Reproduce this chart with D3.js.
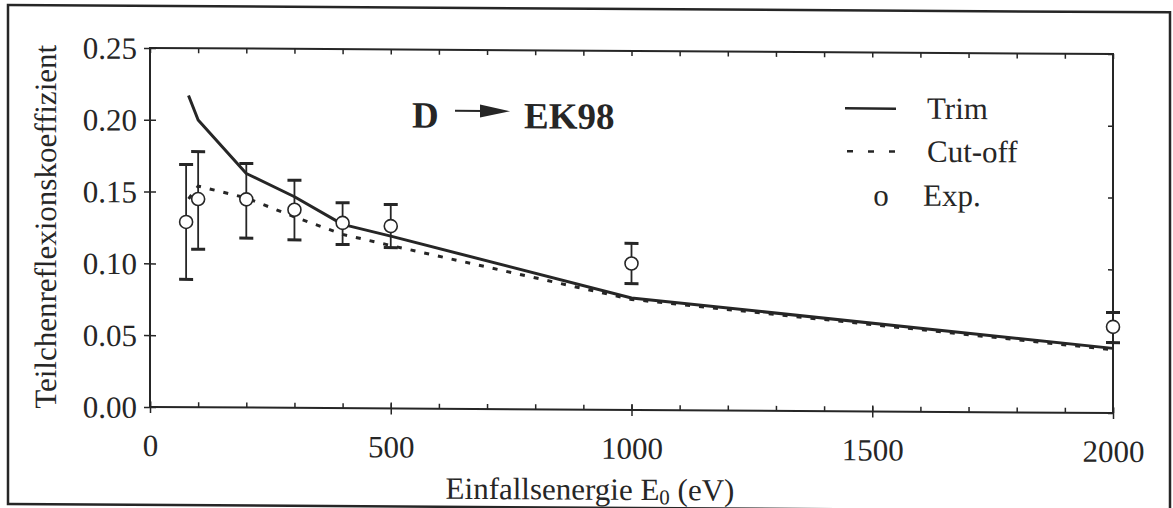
<!DOCTYPE html>
<html lang="de">
<head>
  <meta charset="UTF-8">
  <title>Teilchenreflexionskoeffizient D → EK98</title>
  <script src="https://cdnjs.cloudflare.com/ajax/libs/d3/7.8.5/d3.min.js"></script>
  <style>
    html, body { margin: 0; padding: 0; background: #fff; }
    svg { display: block; }
    text { font-family: "Liberation Serif", "Times New Roman", serif; fill: #262626; }
    .axis path, .axis line { stroke: #262626; }
  </style>
</head>
<body>
  <div id="chart"></div>

  <script>
    // data
    const trimEnergy = [80, 100, 200, 300, 400, 500, 1000, 2000];
    const trimCoeff  = [0.217, 0.200, 0.163, 0.147, 0.128, 0.120, 0.078, 0.045];

    const cutEnergy = [80, 100, 200, 300, 400, 500, 1000, 2000];
    const cutCoeff  = [0.145, 0.154, 0.146, 0.133, 0.121, 0.1135, 0.077, 0.044];

    const expEnergy = [75, 100, 200, 300, 400, 500, 1000, 2000];
    const expCoeff  = [0.129, 0.145, 0.145, 0.138, 0.129, 0.127, 0.102, 0.060];
    const expLow    = [0.089, 0.110, 0.118, 0.117, 0.114, 0.112, 0.088, 0.049];
    const expHigh   = [0.169, 0.178, 0.170, 0.1585, 0.143, 0.142, 0.116, 0.070];

    const xMajor = [0, 500, 1000, 1500, 2000];
    const xMinor = d3.range(0, 2001, 100);
    const yTicks = [0, 0.05, 0.10, 0.15, 0.20, 0.25];

    const legendItems = ["Trim", "Cut-off", "Exp."];

    const W = 1173, H = 508;
    const ink = "#262626";
    const serif = "'Liberation Serif', 'Times New Roman', serif";

    const svg = d3.select("#chart").append("svg")
      .attr("width", W)
      .attr("height", H);

    // the scan is slightly tilted
    const root = svg.append("g").attr("transform", "skewY(0.36)");

    // outer frame
    root.append("rect")
      .attr("x", 8).attr("y", 5)
      .attr("width", 1162).attr("height", 499)
      .attr("fill", "none")
      .attr("stroke", ink)
      .attr("stroke-width", 2.5);

    const x = d3.scaleLinear().domain([0, 2000]).range([150, 1113]);
    const y = d3.scaleLinear().domain([0, 0.25]).range([406, 47]);

    // plot box
    root.append("rect")
      .attr("x", x(0)).attr("y", y(0.25))
      .attr("width", x(2000) - x(0)).attr("height", y(0) - y(0.25))
      .attr("fill", "none")
      .attr("stroke", ink)
      .attr("stroke-width", 2);

    // bottom axis: crossing majors + inward minors
    const bottom = root.append("g")
      .attr("class", "axis")
      .attr("transform", `translate(0,${y(0)})`);
    bottom.append("g")
      .call(d3.axisBottom(x).tickValues(xMinor).tickSize(-5).tickFormat(""))
      .call(g => g.select(".domain").remove())
      .selectAll("line").attr("stroke-width", 1.5);
    bottom.append("g")
      .call(d3.axisBottom(x).tickValues(xMajor).tickSize(6).tickPadding(21).tickFormat(d3.format("d")))
      .call(g => g.select(".domain").remove())
      .call(g => g.selectAll(".tick line").attr("y1", -6).attr("stroke-width", 1.5))
      .selectAll("text")
      .attr("font-size", 31)
      .style("font-family", serif)
      .attr("fill", ink);

    // top axis: inward minors
    root.append("g")
      .attr("class", "axis")
      .attr("transform", `translate(0,${y(0.25)})`)
      .call(d3.axisTop(x).tickValues(xMinor).tickSize(-5).tickFormat(""))
      .call(g => g.select(".domain").remove())
      .selectAll("line").attr("stroke-width", 1.5);

    // left axis
    root.append("g")
      .attr("class", "axis")
      .attr("transform", `translate(${x(0)},0)`)
      .call(d3.axisLeft(y).tickValues(yTicks).tickSize(6).tickPadding(7).tickFormat(d3.format(".2f")))
      .call(g => g.select(".domain").remove())
      .call(g => g.selectAll(".tick line").attr("x1", 6).attr("stroke-width", 1.5))
      .selectAll("text")
      .attr("font-size", 31)
      .attr("dy", "0.34em")
      .style("font-family", serif)
      .attr("fill", ink);

    // right axis
    root.append("g")
      .attr("class", "axis")
      .attr("transform", `translate(${x(2000)},0)`)
      .call(d3.axisRight(y).tickValues(yTicks).tickSize(-5).tickFormat(""))
      .call(g => g.select(".domain").remove())
      .selectAll("line").attr("stroke-width", 1.5);

    // axis titles
    const xTitle = root.append("text")
      .attr("x", 590)
      .attr("y", 496)
      .attr("text-anchor", "middle")
      .attr("font-size", 31)
      .style("font-family", serif);
    xTitle.append("tspan").text("Einfallsenergie E");
    xTitle.append("tspan").attr("font-size", 21).attr("dy", 4).text("0");
    xTitle.append("tspan").attr("dy", -4).text(" (eV)");

    root.append("text")
      .attr("transform", `translate(56,${(y(0) + y(0.25)) / 2}) rotate(-90)`)
      .attr("text-anchor", "middle")
      .attr("font-size", 31)
      .style("font-family", serif)
      .text("Teilchenreflexionskoeffizient");

    // curves
    const line = d3.line().x(d => x(d[0])).y(d => y(d[1]));

    root.append("path")
      .datum(d3.zip(trimEnergy, trimCoeff))
      .attr("d", line)
      .attr("fill", "none")
      .attr("stroke", ink)
      .attr("stroke-width", 3)
      .attr("stroke-linejoin", "round");

    root.append("path")
      .datum(d3.zip(cutEnergy, cutCoeff))
      .attr("d", line)
      .attr("fill", "none")
      .attr("stroke", ink)
      .attr("stroke-width", 3)
      .attr("stroke-dasharray", "5,9");

    // experiment with error bars
    const expData = expEnergy.map((e, i) => ({e, v: expCoeff[i], lo: expLow[i], hi: expHigh[i]}));
    const pts = root.append("g").selectAll("g")
      .data(expData)
      .join("g");
    pts.append("line")
      .attr("x1", d => x(d.e)).attr("x2", d => x(d.e))
      .attr("y1", d => y(d.lo)).attr("y2", d => y(d.hi))
      .attr("stroke", ink).attr("stroke-width", 1.8);
    pts.selectAll(".cap")
      .data(d => [[d.e, d.lo], [d.e, d.hi]])
      .join("line")
      .attr("class", "cap")
      .attr("x1", d => x(d[0]) - 7).attr("x2", d => x(d[0]) + 7)
      .attr("y1", d => y(d[1])).attr("y2", d => y(d[1]))
      .attr("stroke", ink).attr("stroke-width", 3);
    pts.append("circle")
      .attr("cx", d => x(d.e)).attr("cy", d => y(d.v))
      .attr("r", 6.5)
      .attr("fill", "#fff")
      .attr("stroke", ink)
      .attr("stroke-width", 1.6);

    // title  D -> EK98
    const title = root.append("g");
    title.append("text")
      .attr("x", 412).attr("y", 125)
      .attr("font-size", 37).attr("font-weight", "bold")
      .style("font-family", serif)
      .text("D");
    title.append("line")
      .attr("x1", 455).attr("x2", 484)
      .attr("y1", 108).attr("y2", 108)
      .attr("stroke", ink).attr("stroke-width", 2);
    title.append("path")
      .attr("d", "M480,101.5 L510,108 L480,114.5 Z")
      .attr("fill", ink);
    title.append("text")
      .attr("x", 524).attr("y", 125)
      .attr("font-size", 37).attr("font-weight", "bold")
      .style("font-family", serif)
      .text("EK98");

    // legend
    const legend = root.append("g");
    const legY = [103, 146, 190];
    legend.selectAll(".lab")
      .data(legendItems)
      .join("text")
      .attr("class", "lab")
      .attr("x", (d, i) => i === 2 ? 923 : 927)
      .attr("y", (d, i) => legY[i] + 10)
      .attr("font-size", 31)
      .style("font-family", serif)
      .text(d => d);
    legend.append("line")
      .attr("x1", 845).attr("x2", 896)
      .attr("y1", legY[0]).attr("y2", legY[0])
      .attr("stroke", ink).attr("stroke-width", 2.5);
    legend.append("line")
      .attr("x1", 847).attr("x2", 896)
      .attr("y1", legY[1]).attr("y2", legY[1])
      .attr("stroke", ink).attr("stroke-width", 2.5)
      .attr("stroke-dasharray", "6,15");
    legend.append("text")
      .attr("x", 881).attr("y", legY[2] + 10)
      .attr("text-anchor", "middle")
      .attr("font-size", 31)
      .style("font-family", serif)
      .text("o");
  </script>
</body>
</html>
